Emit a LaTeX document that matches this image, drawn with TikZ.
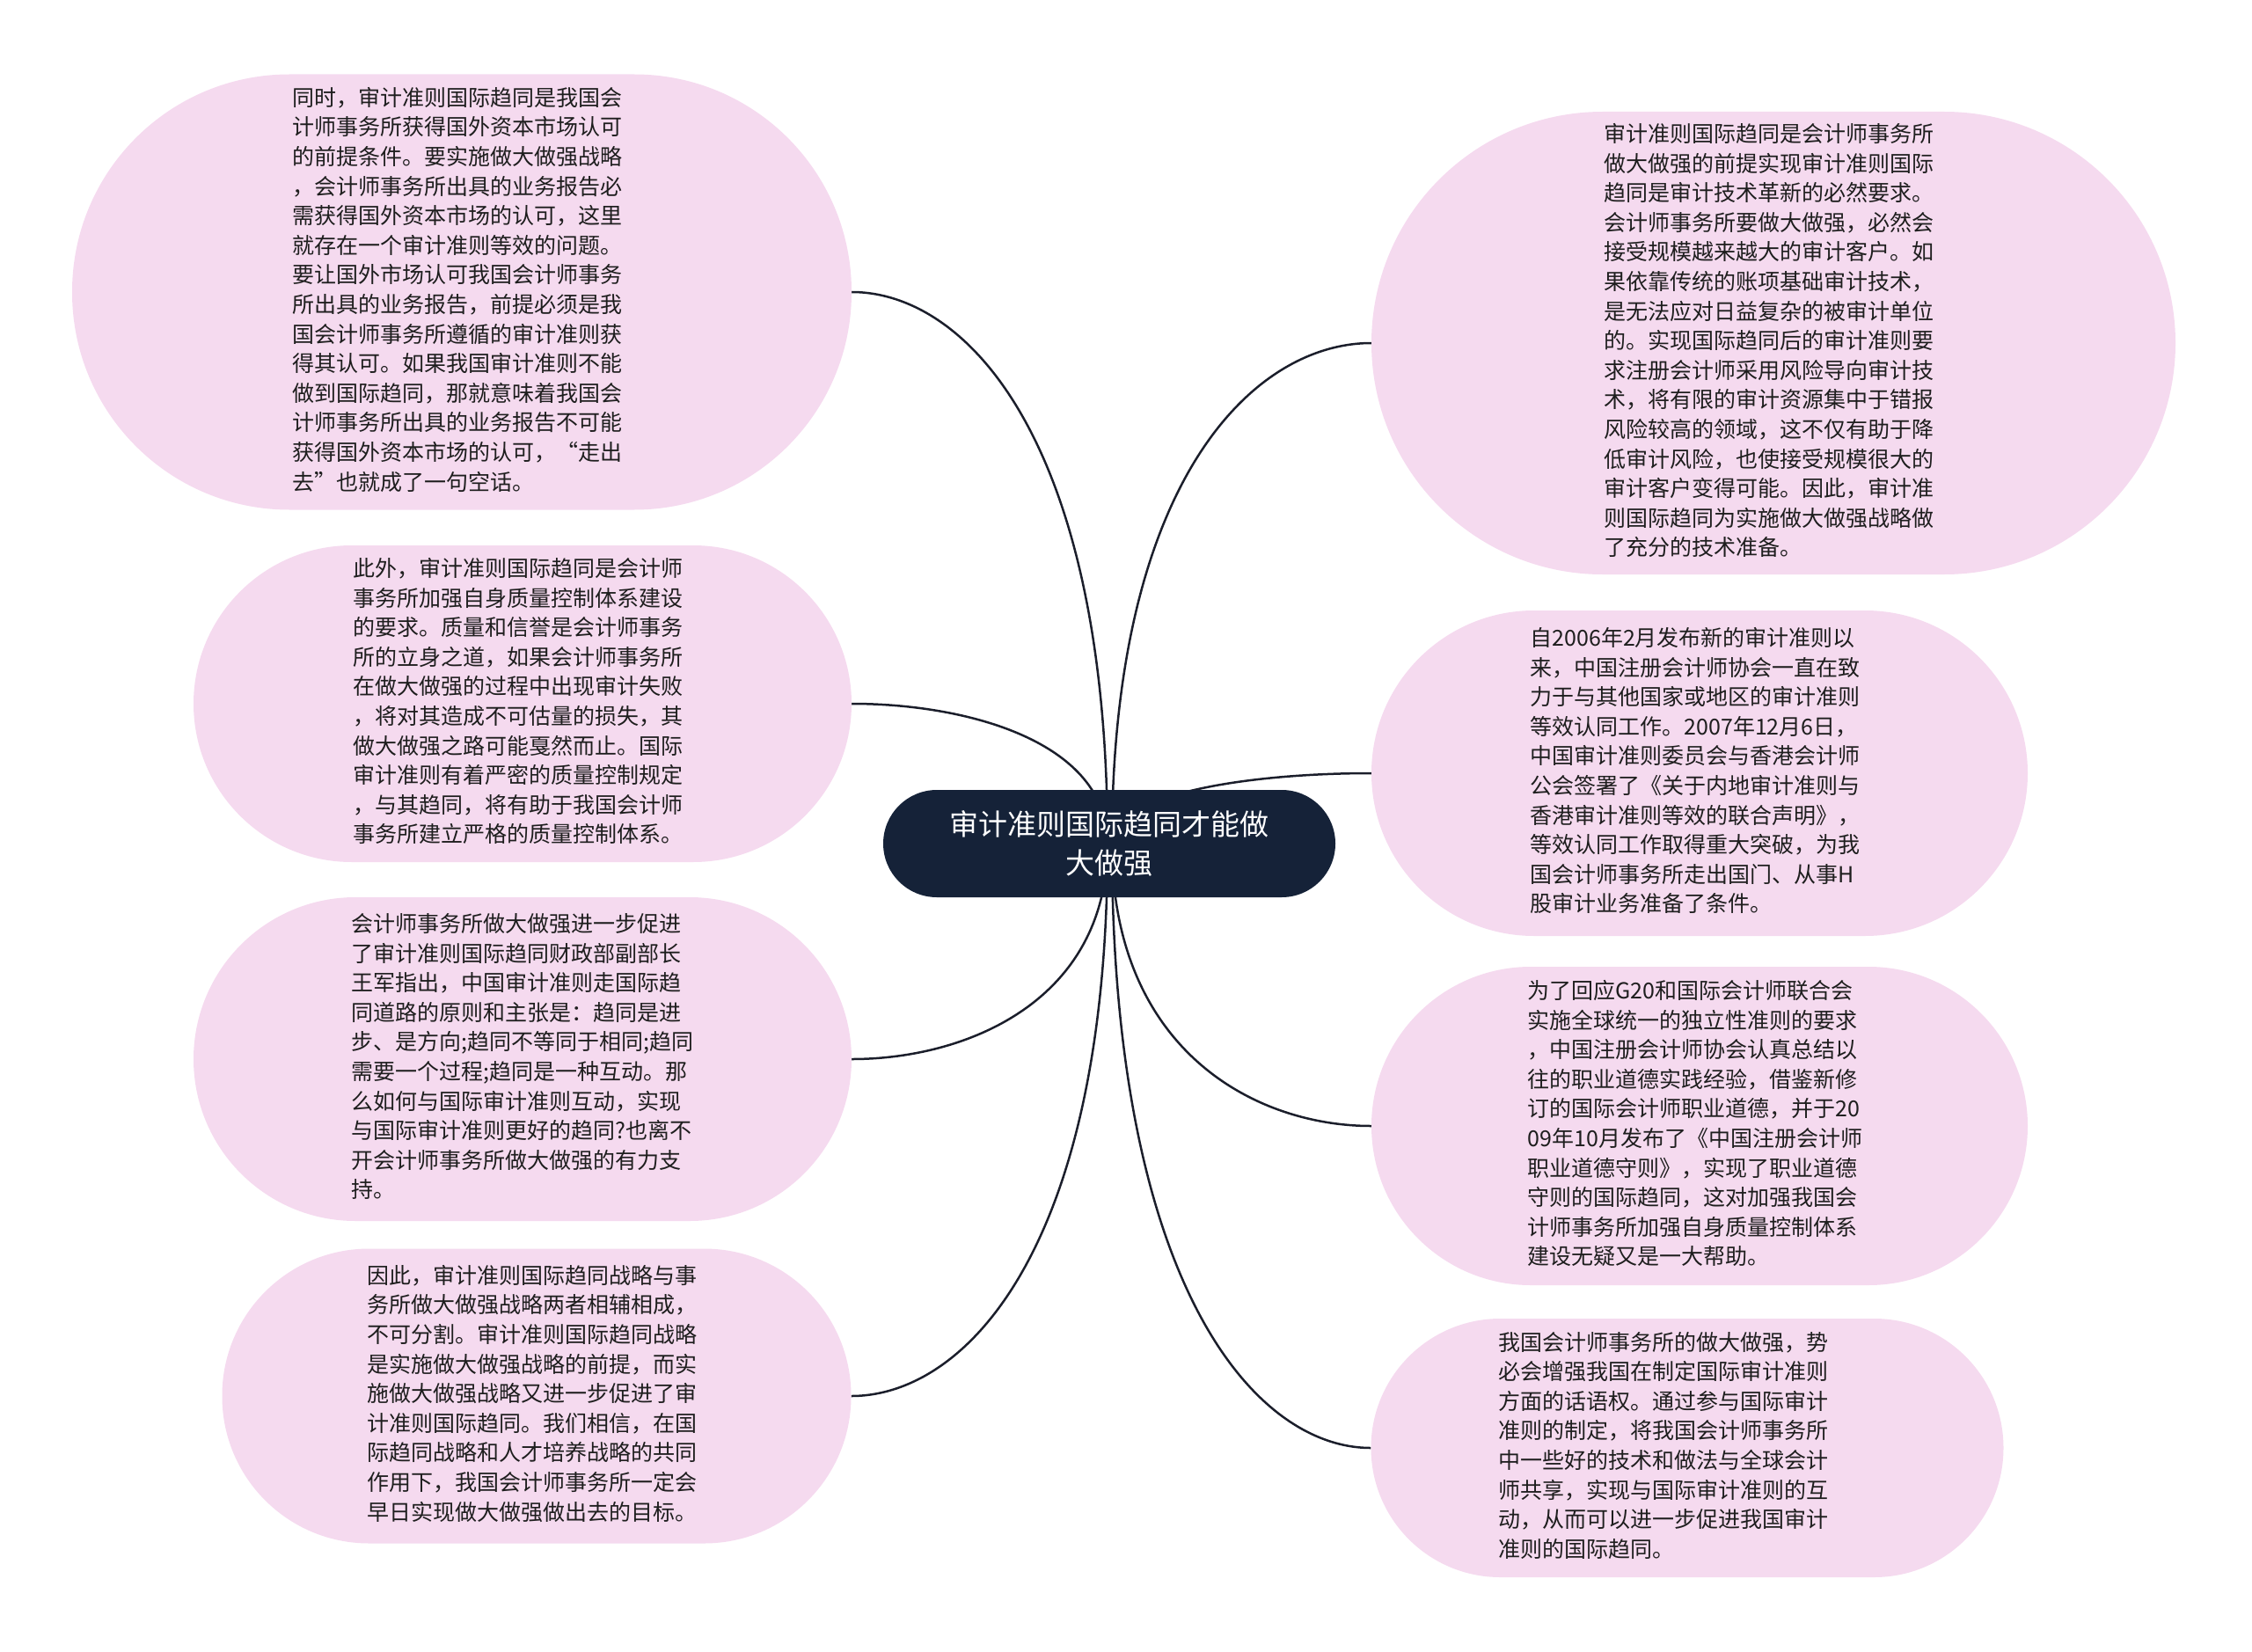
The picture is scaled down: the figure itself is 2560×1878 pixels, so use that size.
\documentclass[tikz,border=0pt]{standalone}
\usepackage{fontspec}
\setmainfont{Noto Sans CJK SC}
\usetikzlibrary{calc,backgrounds}
\definecolor{leafpink}{HTML}{F5DAEF}
\definecolor{rootnavy}{HTML}{152238}
\definecolor{linec}{HTML}{1B1E2B}
\definecolor{textc}{HTML}{1E1E1E}
\newcommand\leaflines[1]{\begin{tabular}{@{}l@{}}#1\end{tabular}}
\newcommand\linkto[2]{\draw[conn] (#1) .. controls ($(#1)!0.73!(#1|-#2)$) and ($(#2)!0.45!(#2-|#1)$) .. (#2);}
\begin{document}
\begin{tikzpicture}[x=1pt,y=-1pt,
  leaf/.style={rectangle, fill=leafpink, inner sep=0pt, text=textc, font=\fontsize{25pt}{33.6pt}\selectfont},
  root/.style={rectangle, fill=rootnavy, inner sep=0pt, text=white, align=center, font=\fontsize{33pt}{44pt}\selectfont},
  conn/.style={draw=linec, line width=2.5pt}]
\useasboundingbox (0,0) rectangle (2560,1878);

% root
\node[root, minimum width=514pt, minimum height=122pt, rounded corners=61pt] (c) at (1261,959)
  {审计准则国际趋同才能做\\大做强};

% left leaves
\node[leaf, minimum width=886pt, minimum height=495pt, rounded corners=247pt] (l1) at (525,332) {\leaflines{%
同时，审计准则国际趋同是我国会\\
计师事务所获得国外资本市场认可\\
的前提条件。要实施做大做强战略\\
，会计师事务所出具的业务报告必\\
需获得国外资本市场的认可，这里\\
就存在一个审计准则等效的问题。\\
要让国外市场认可我国会计师事务\\
所出具的业务报告，前提必须是我\\
国会计师事务所遵循的审计准则获\\
得其认可。如果我国审计准则不能\\
做到国际趋同，那就意味着我国会\\
计师事务所出具的业务报告不可能\\
获得国外资本市场的认可，“走出\\
去”也就成了一句空话。}\kern10pt};

\node[leaf, minimum width=748pt, minimum height=360pt, rounded corners=180pt] (l2) at (594,800) {\leaflines{%
此外，审计准则国际趋同是会计师\\
事务所加强自身质量控制体系建设\\
的要求。质量和信誉是会计师事务\\
所的立身之道，如果会计师事务所\\
在做大做强的过程中出现审计失败\\
，将对其造成不可估量的损失，其\\
做大做强之路可能戛然而止。国际\\
审计准则有着严密的质量控制规定\\
，与其趋同，将有助于我国会计师\\
事务所建立严格的质量控制体系。}\kern10pt};

\node[leaf, minimum width=748pt, minimum height=368pt, rounded corners=184pt] (l3) at (594,1204) {\leaflines{%
会计师事务所做大做强进一步促进\\
了审计准则国际趋同财政部副部长\\
王军指出，中国审计准则走国际趋\\
同道路的原则和主张是：趋同是进\\
步、是方向;趋同不等同于相同;趋同\\
需要一个过程;趋同是一种互动。那\\
么如何与国际审计准则互动，实现\\
与国际审计准则更好的趋同?也离不\\
开会计师事务所做大做强的有力支\\
持。}};

\node[leaf, minimum width=715pt, minimum height=335pt, rounded corners=167pt] (l4) at (610,1587) {\leaflines{%
因此，审计准则国际趋同战略与事\\
务所做大做强战略两者相辅相成，\\
不可分割。审计准则国际趋同战略\\
是实施做大做强战略的前提，而实\\
施做大做强战略又进一步促进了审\\
计准则国际趋同。我们相信，在国\\
际趋同战略和人才培养战略的共同\\
作用下，我国会计师事务所一定会\\
早日实现做大做强做出去的目标。}\kern10pt};

% right leaves
\node[leaf, minimum width=914pt, minimum height=526pt, rounded corners=263pt] (r1) at (2016,390) {\leaflines{%
审计准则国际趋同是会计师事务所\\
做大做强的前提实现审计准则国际\\
趋同是审计技术革新的必然要求。\\
会计师事务所要做大做强，必然会\\
接受规模越来越大的审计客户。如\\
果依靠传统的账项基础审计技术，\\
是无法应对日益复杂的被审计单位\\
的。实现国际趋同后的审计准则要\\
求注册会计师采用风险导向审计技\\
术，将有限的审计资源集中于错报\\
风险较高的领域，这不仅有助于降\\
低审计风险，也使接受规模很大的\\
审计客户变得可能。因此，审计准\\
则国际趋同为实施做大做强战略做\\
了充分的技术准备。}\kern10pt};

\node[leaf, minimum width=746pt, minimum height=370pt, rounded corners=185pt] (r2) at (1932,879) {\leaflines{%
自2006年2月发布新的审计准则以\\
来，中国注册会计师协会一直在致\\
力于与其他国家或地区的审计准则\\
等效认同工作。2007年12月6日，\\
中国审计准则委员会与香港会计师\\
公会签署了《关于内地审计准则与\\
香港审计准则等效的联合声明》，\\
等效认同工作取得重大突破，为我\\
国会计师事务所走出国门、从事H\\
股审计业务准备了条件。}\kern10pt};

\node[leaf, minimum width=746pt, minimum height=362pt, rounded corners=181pt] (r3) at (1932,1280) {\leaflines{%
为了回应G20和国际会计师联合会\\
实施全球统一的独立性准则的要求\\
，中国注册会计师协会认真总结以\\
往的职业道德实践经验，借鉴新修\\
订的国际会计师职业道德，并于20\\
09年10月发布了《中国注册会计师\\
职业道德守则》，实现了职业道德\\
守则的国际趋同，这对加强我国会\\
计师事务所加强自身质量控制体系\\
建设无疑又是一大帮助。}\kern10pt};

\node[leaf, minimum width=719pt, minimum height=294pt, rounded corners=147pt] (r4) at (1918,1646) {\leaflines{%
我国会计师事务所的做大做强，势\\
必会增强我国在制定国际审计准则\\
方面的话语权。通过参与国际审计\\
准则的制定，将我国会计师事务所\\
中一些好的技术和做法与全球会计\\
师共享，实现与国际审计准则的互\\
动，从而可以进一步促进我国审计\\
准则的国际趋同。}\kern54pt};

% connectors
\coordinate (cl) at ([xshift=-2pt]c.center);
\coordinate (cr) at ([xshift=3pt]c.center);
\begin{scope}[on background layer]
\linkto{cl}{l1.east}
\linkto{cl}{l2.east}
\linkto{cl}{l3.east}
\linkto{cl}{l4.east}
\linkto{cr}{r1.west}
\linkto{cr}{r2.west}
\linkto{cr}{r3.west}
\linkto{cr}{r4.west}
\end{scope}
\end{tikzpicture}
\end{document}
